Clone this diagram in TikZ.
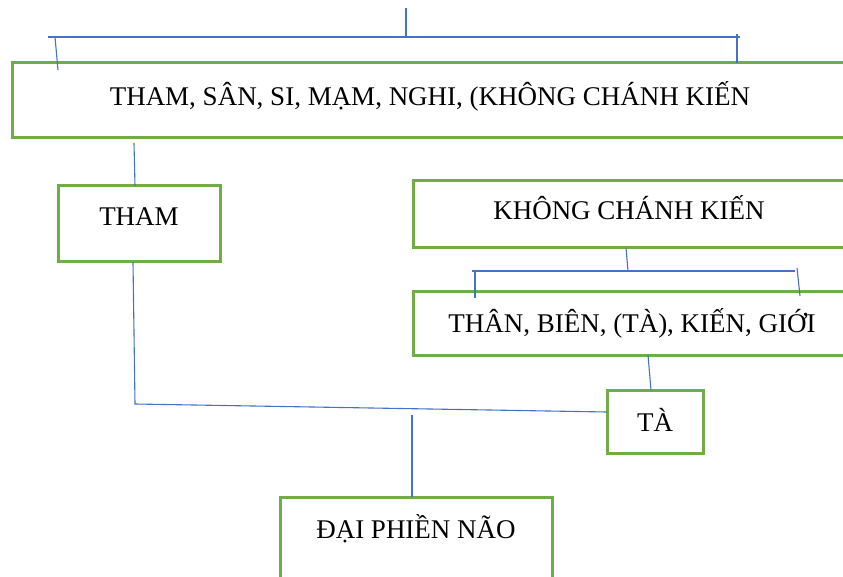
\documentclass[tikz,border=0pt]{standalone}
\usepackage{fontspec}
\setmainfont{Liberation Serif}
\definecolor{boxgreen}{HTML}{70AD47}
\definecolor{linkblue}{HTML}{4472C4}
\begin{document}
\begin{tikzpicture}[x=1pt,y=-1pt,
  box/.style={draw=boxgreen, line width=3pt, inner sep=0pt, outer sep=0pt,
    font=\fontsize{27}{32}\selectfont, fill=none},
  link/.style={draw=linkblue, line width=1.1pt}]
\useasboundingbox (0,0) rectangle (843,577);
\clip (0,0) rectangle (843,577);
% boxes
\node[box, minimum width=836pt, minimum height=75pt, text height=43pt, text depth=32pt] (top) at (430,100.5) {THAM, SÂN, SI, MẠM, NGHI, (KHÔNG CHÁNH KIẾN};
\node[box, minimum width=162pt, minimum height=76pt, text height=40pt, text depth=36pt] (tham) at (139,224) {THAM};
\node[box, minimum width=432pt, minimum height=67pt, text height=39pt, text depth=28pt] (kck) at (629,214.5) {KHÔNG CHÁNH KIẾN};
\node[box, minimum width=438pt, minimum height=63pt, text height=40pt, text depth=23pt] (than) at (632,323.5) {THÂN, BIÊN, (TÀ), KIẾN, GIỚI};
\node[box, minimum width=96pt, minimum height=63pt, text height=41pt, text depth=22pt] (ta) at (655,421.5) {TÀ};
\node[box, minimum width=272pt, minimum height=110pt, text height=41pt, text depth=69pt] (dpn) at (416,552) {ĐẠI PHIỀN NÃO};
% coordinates
\coordinate (t0) at (406,8);
\coordinate (t1) at (406,37);
\coordinate (tl) at (48,37);
\coordinate (tr) at (740,37);
\coordinate (tla) at (55,37);
\coordinate (tlb) at (58,70);
\coordinate (tra) at (737,34);
\coordinate (trb) at (737,63);
\coordinate (th0) at (134,143);
\coordinate (th1) at (135,186);
\coordinate (b0) at (133,262);
\coordinate (b1) at (135,404);
\coordinate (b2) at (607,412);
\coordinate (d0) at (412,415);
\coordinate (d1) at (412,497);
\coordinate (k0) at (626,248);
\coordinate (k1) at (628,271);
\coordinate (kl) at (472,271);
\coordinate (kr) at (795,271);
\coordinate (kla) at (475,271);
\coordinate (klb) at (475,298);
\coordinate (kra) at (797,268);
\coordinate (krb) at (800,296);
\coordinate (s0) at (648,355);
\coordinate (s1) at (651,390);
% connectors
\draw[link] (t0) -- (t1);
\draw[link] (tl) -- (tr);
\draw[link] (tla) -- (tlb);
\draw[link] (tra) -- (trb);
\draw[link] (th0) -- (th1);
\draw[link] (b0) -- (b1) -- (b2);
\draw[link] (d0) -- (d1);
\draw[link] (k0) -- (k1);
\draw[link] (kl) -- (kr);
\draw[link] (kla) -- (klb);
\draw[link] (kra) -- (krb);
\draw[link] (s0) -- (s1);
\end{tikzpicture}
\end{document}
